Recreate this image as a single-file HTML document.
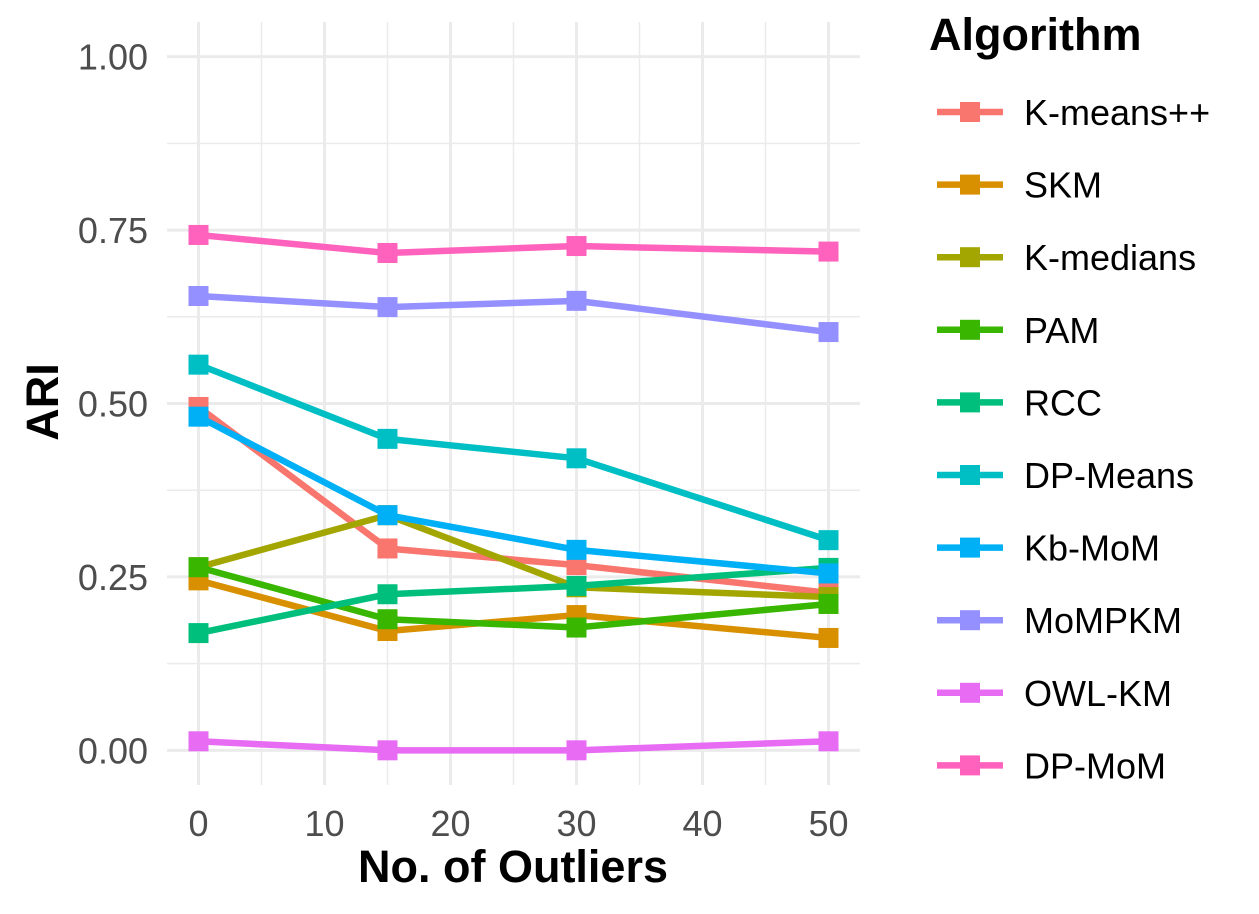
<!DOCTYPE html>
<html><head><meta charset="utf-8"><style>
html,body{margin:0;padding:0;background:#fff;}
svg{display:block;font-family:"Liberation Sans",Arial,sans-serif;}
</style></head><body>
<svg id="chart" width="1259" height="914" viewBox="0 0 1259 914" xmlns="http://www.w3.org/2000/svg">
<g id="grid"></g>
<g id="series"></g>
<g id="axes"></g>
<g id="legend"></g>
</svg>
<script>
const xValues = [0, 15, 30, 50];
const algorithms = ["K-means++","SKM","K-medians","PAM","RCC","DP-Means","Kb-MoM","MoMPKM","OWL-KM","DP-MoM"];
const kmeansVals = [0.495, 0.291, 0.267, 0.227];
const skmVals = [0.245, 0.172, 0.195, 0.162];
const kmediansVals = [0.264, 0.339, 0.235, 0.221];
const pamVals = [0.264, 0.189, 0.177, 0.211];
const rccVals = [0.169, 0.225, 0.237, 0.263];
const dpmeansVals = [0.556, 0.449, 0.421, 0.303];
const kbmomVals = [0.481, 0.339, 0.289, 0.255];
const mompkmVals = [0.655, 0.639, 0.648, 0.603];
const owlkmVals = [0.013, 0.0, 0.0, 0.013];
const dpmomVals = [0.743, 0.717, 0.727, 0.719];
const xTicks = [0, 10, 20, 30, 40, 50];
const yTicks = [0, 0.25, 0.5, 0.75, 1.0];
const yTickLabels = ["0.00","0.25","0.50","0.75","1.00"];

const seriesVals = [kmeansVals,skmVals,kmediansVals,pamVals,rccVals,dpmeansVals,kbmomVals,mompkmVals,owlkmVals,dpmomVals];
const colors = ["#F8766D","#D89000","#A3A500","#39B600","#00BF7D","#00BFC4","#00B0F6","#9590FF","#E76BF3","#FF62BC"];
const NS = "http://www.w3.org/2000/svg";
const L = 167, R = 860, T = 22, B = 785;
const xMin = -2.5, xMax = 52.5, yMin = -0.05, yMax = 1.05;
const xs = v => L + (v - xMin) / (xMax - xMin) * (R - L);
const ys = v => B - (v - yMin) / (yMax - yMin) * (B - T);
function mk(tag, attrs, parent){const e=document.createElementNS(NS,tag);for(const k in attrs)e.setAttribute(k,attrs[k]);parent.appendChild(e);return e;}
const grid = document.getElementById('grid'), axes = document.getElementById('axes'), ser = document.getElementById('series'), leg = document.getElementById('legend');
for (let v = 0.125; v < 1.05; v += 0.25) { const l = mk('line',{x1:L,x2:R,y1:ys(v),y2:ys(v),stroke:'#EBEBEB','stroke-width':1.5},grid);
  }
for (let v = 5; v < 52; v += 10) { const l = mk('line',{x1:xs(v),x2:xs(v),y1:T,y2:B,stroke:'#EBEBEB','stroke-width':1.5},grid);
  }
yTicks.forEach((v,i)=>{ const l = mk('line',{x1:L,x2:R,y1:ys(v),y2:ys(v),stroke:'#EBEBEB','stroke-width':3},grid);
 
const t = mk('text',{x:148,y:ys(v)+13,'text-anchor':'end','font-size':36,fill:'#4D4D4D'},axes); t.textContent = yTickLabels[i];
  });
xTicks.forEach(v=>{ const l = mk('line',{x1:xs(v),x2:xs(v),y1:T,y2:B,stroke:'#EBEBEB','stroke-width':3},grid);
 
const t = mk('text',{x:xs(v),y:836,'text-anchor':'middle','font-size':36,fill:'#4D4D4D'},axes); t.textContent = v;
  });
const xt = mk('text',{x:513,y:882,'text-anchor':'middle','font-size':45,'font-weight':'bold',fill:'#000'},axes); xt.textContent='No. of Outliers';
 
const yt = mk('text',{x:0,y:0,'text-anchor':'middle','font-size':45,'font-weight':'bold',fill:'#000',transform:'translate(58,402) rotate(-90)'},axes); yt.textContent='ARI';
 
seriesVals.forEach((vals,si)=>{
  const g = mk('g',{},ser);
  
  
  const pts = vals.map((v,i)=>xs(xValues[i])+','+ys(v)).join(' ');
  const pl = mk('polyline',{points:pts,fill:'none',stroke:colors[si],'stroke-width':6.5,'stroke-linejoin':'round'},g);
   
  vals.forEach((v,i)=>{ const r = mk('rect',{x:xs(xValues[i])-10,y:ys(v)-10,width:20,height:20,fill:colors[si]},g);
      });
});
const lt = mk('text',{x:929,y:50,'font-size':45,'font-weight':'bold',fill:'#000'},leg); lt.textContent='Algorithm';
 
algorithms.forEach((a,i)=>{
  const y = 112 + i*72.6;
  const g = mk('g',{},leg);
   
  mk('line',{x1:937,x2:1003,y1:y,y2:y,stroke:colors[i],'stroke-width':6.5},g);
  mk('rect',{x:960,y:y-10,width:20,height:20,fill:colors[i]},g);
  const t = mk('text',{x:1024,y:y+13,'font-size':36,fill:'#000'},g); t.textContent=a;
   
});
</script>
</body></html>
